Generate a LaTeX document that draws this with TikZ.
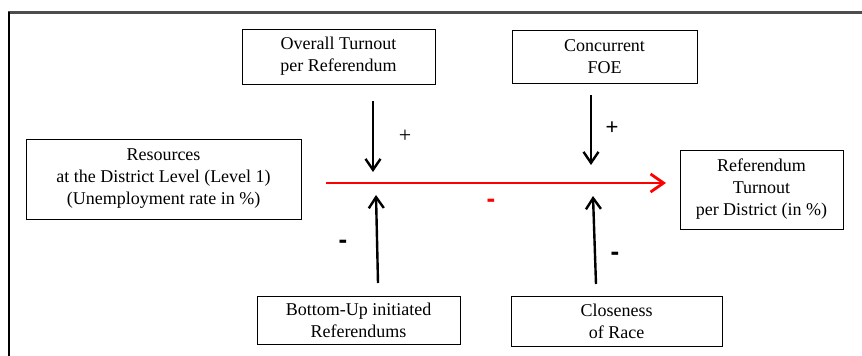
\documentclass[tikz,border=0pt]{standalone}
\usepackage{fontspec}
\setmainfont{Liberation Serif}
\newfontfamily\signfont{Liberation Sans}
\usetikzlibrary{arrows.meta}
\definecolor{framegray}{HTML}{4D4D4D}
\tikzset{
  factor/.style={draw, line width=1pt, align=center, inner sep=0pt,
    font=\fontsize{18}{22}\selectfont},
  effect/.style={line width=2.4pt, -{Straight Barb[length=11pt,width=15pt,line width=2.4pt]}},
  maineffect/.style={red, line width=2.8pt, -{Straight Barb[length=13pt,width=18pt,line width=2.8pt]}},
  sign/.style={inner sep=0pt, font=\signfont\bfseries\fontsize{26}{26}\selectfont}
}
\begin{document}
\begin{tikzpicture}[x=1pt,y=-1pt]
    \useasboundingbox (0,0) rectangle (862,356);
    % frame
    \draw [line width=2.5pt,framegray] (8,12.5) -- (862,12.5);
    \draw [line width=2pt] (9,11.5) -- (9,356);
    % factors
    \node [factor,minimum width=193pt,minimum height=55pt] (overall) at (338.5,56.5) {Overall Turnout\\per Referendum};
    \node [factor,minimum width=185pt,minimum height=53pt] (foe) at (604.5,56.5) {Concurrent\\FOE};
    \node [factor,minimum width=275pt,minimum height=80pt] (resources) at (163.5,179) {Resources\\at the District Level (Level 1)\\(Unemployment rate in \%)};
    \node [factor,minimum width=163pt,minimum height=79pt] (turnout) at (761.5,189.5) {Referendum\\Turnout\\per District (in \%)};
    \node [factor,minimum width=203pt,minimum height=48pt] (bottomup) at (358.5,320) {Bottom-Up initiated\\Referendums};
    \node [factor,minimum width=211pt,minimum height=50pt] (closeness) at (616.5,321) {Closeness\\of Race};
    % arrows
    \coordinate (overallfrom) at (373,101);
    \coordinate (overallto) at (373,172);
    \coordinate (foefrom) at (591,95);
    \coordinate (foeto) at (591,165);
    \coordinate (bottomupfrom) at (378,283);
    \coordinate (bottomupto) at (376,195);
    \coordinate (closenessfrom) at (596,284);
    \coordinate (closenessto) at (593,196);
    \coordinate (resourcesfrom) at (326,183);
    \coordinate (turnoutto) at (666,183);
    \draw [effect] (overallfrom) -- (overallto);
    \draw [effect] (foefrom) -- (foeto);
    \draw [effect] (bottomupfrom) -- (bottomupto);
    \draw [effect] (closenessfrom) -- (closenessto);
    \draw [maineffect] (resourcesfrom) -- (turnoutto);
    % signs
    \node [inner sep=0pt,font=\fontsize{22}{22}\selectfont] (overallsign) at (405,136) {+};
    \node [inner sep=0pt,font=\signfont\fontsize{22}{22}\selectfont] (foesign) at (612,128) {+};
    \node [sign] (bottomupsign) at (343,244) {-};
    \node [sign] (closenesssign) at (615,256) {-};
    \node [sign,red] (resourcessign) at (491,203) {-};
\end{tikzpicture}
\end{document}
